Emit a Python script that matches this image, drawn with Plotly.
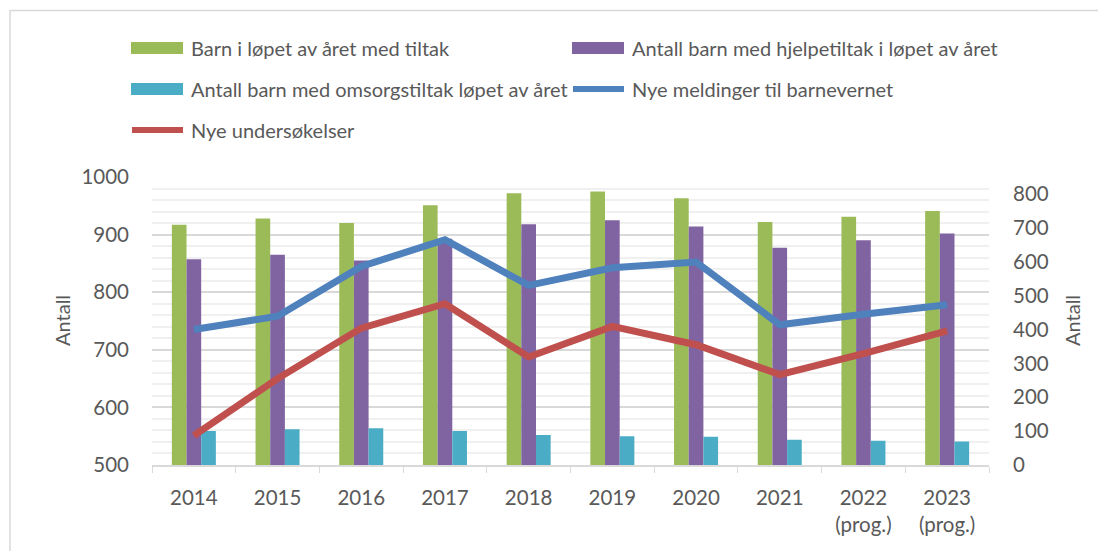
import plotly.graph_objects as go

# Data
years = ["2014", "2015", "2016", "2017", "2018", "2019", "2020", "2021", "2022", "2023"]
year_labels = ["2014", "2015", "2016", "2017", "2018", "2019", "2020", "2021",
               "2022<br>(prog.)", "2023<br>(prog.)"]

barn_tiltak = [917, 928, 920, 951, 972, 975, 963, 922, 931, 941]
hjelpetiltak = [857, 865, 855, 893, 918, 925, 914, 877, 890, 902]
omsorgstiltak = [559, 562, 564, 559, 552, 550, 549, 544, 542, 541]
meldinger = [400, 439, 586, 665, 530, 582, 599, 414, 445, 473]
undersokelser = [87, 255, 404, 476, 319, 409, 355, 267, 329, 396]

names = ["Barn i løpet av året med tiltak",
         "Antall barn med hjelpetiltak i løpet av året",
         "Antall barn med omsorgstiltak løpet av året",
         "Nye meldinger til barnevernet",
         "Nye undersøkelser"]
colors = ["#9BBB59", "#8064A2", "#4BACC6", "#4F81BD", "#C0504D"]

FONT = "Lato"
TXT = "#595959"
OFF = 8  # page body margin
W, H = 1106 - OFF, 551 - OFF
L, R, T, B = 152 - OFF, 117, 177 - OFF, 86
PW, PH = W - L - R, H - T - B


# page pixel -> paper coords
def px_x(x):
    return (x - OFF - L) / PW


def px_y(y):
    return (H - B - (y - OFF)) / PH


fig = go.Figure()
for vals, name, col in zip([barn_tiltak, hjelpetiltak, omsorgstiltak], names[:3], colors[:3]):
    fig.add_trace(go.Bar(x=years, y=vals, name=name, marker_color=col,
                         marker_line_width=0, showlegend=False))
for vals, name, col in zip([meldinger, undersokelser], names[3:], colors[3:]):
    fig.add_trace(go.Scatter(x=years, y=vals, name=name, yaxis="y2", mode="lines",
                             line=dict(color=col, width=7), showlegend=False))

# hand-drawn legend to get Excel-style wide swatches
legend_items = [
    (names[0], colors[0], "bar", 131, 48, 189),
    (names[1], colors[1], "bar", 572, 48, 630),
    (names[2], colors[2], "bar", 131, 89, 189),
    (names[3], colors[3], "line", 570, 89, 630),
    (names[4], colors[4], "line", 129, 130, 189),
]
shapes = [dict(type="rect", xref="paper", yref="paper",
               x0=px_x(10), x1=px_x(1120), y0=px_y(570), y1=px_y(10.5),
               line=dict(color="#D9D9D9", width=1.5), fillcolor="rgba(0,0,0,0)", layer="below")]
annotations = []
for name, col, kind, sx, sy, tx in legend_items:
    if kind == "bar":
        shapes.append(dict(type="rect", xref="paper", yref="paper",
                           x0=px_x(sx), x1=px_x(sx + 52), y0=px_y(sy + 6), y1=px_y(sy - 6),
                           fillcolor=col, line_width=0))
    else:
        shapes.append(dict(type="line", xref="paper", yref="paper",
                           x0=px_x(sx + 3), x1=px_x(sx + 54), y0=px_y(sy), y1=px_y(sy),
                           line=dict(color=col, width=6)))
    annotations.append(dict(text=name, xref="paper", yref="paper", x=px_x(tx), y=px_y(sy),
                            xanchor="left", yanchor="middle", showarrow=False,
                            font=dict(family=FONT, size=20, color=TXT)))

annotations.append(dict(text="Antall", xref="paper", yref="paper", x=px_x(62), y=px_y(321),
                        textangle=-90, showarrow=False, xanchor="center", yanchor="middle",
                        font=dict(family=FONT, size=20, color=TXT)))
annotations.append(dict(text="Antall", xref="paper", yref="paper", x=px_x(1072), y=px_y(321),
                        textangle=-90, showarrow=False, xanchor="center", yanchor="middle",
                        font=dict(family=FONT, size=20, color=TXT)))

fig.update_layout(
    width=W, height=H,
    margin=dict(l=L, r=R, t=T, b=B, autoexpand=False),
    paper_bgcolor="white", plot_bgcolor="white",
    barmode="group", bargap=0.474, bargroupgap=0,
    font=dict(family=FONT, size=20, color=TXT),
    shapes=shapes, annotations=annotations,
    xaxis=dict(type="category", tickvals=years, ticktext=year_labels,
               showline=True, linecolor="#D9D9D9", linewidth=1.5,
               ticks="outside", tickson="boundaries", ticklen=6, tickcolor="#D9D9D9",
               showgrid=False, tickfont=dict(size=20.5, color=TXT), ticklabelstandoff=14),
    yaxis=dict(range=[500, 1000], dtick=100, showgrid=True, gridcolor="#D9D9D9", gridwidth=1.5,
               zeroline=False, showline=False, ticks="", ticklabelstandoff=22,
               tickfont=dict(size=20.5, color=TXT),
               minor=dict(dtick=20, showgrid=True, gridcolor="#F0F0F0", gridwidth=1.5)),
    yaxis2=dict(range=[0, 850], tickvals=[0, 100, 200, 300, 400, 500, 600, 700, 800],
                overlaying="y", side="right", showgrid=False, zeroline=False,
                showline=False, ticks="", ticklabelstandoff=23,
                tickfont=dict(size=20.5, color=TXT)),
    showlegend=False,
)

fig.write_html("out.html")
